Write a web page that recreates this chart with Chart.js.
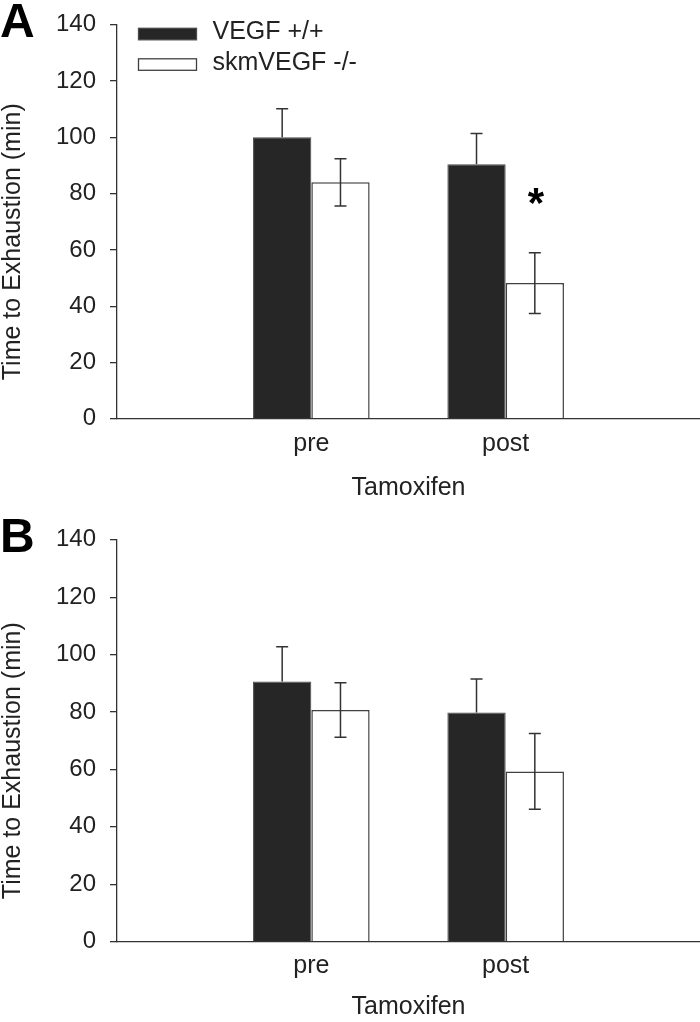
<!DOCTYPE html>
<html>
<head>
<meta charset="utf-8">
<script src="https://cdn.jsdelivr.net/npm/chart.js@4.4.1/dist/chart.umd.min.js"></script>
<style>
  body { margin: 0; background: #fff; }
  canvas { display: block; }
</style>
</head>
<body>
<canvas id="panelA" width="700" height="515"></canvas>
<canvas id="panelB" width="700" height="507"></canvas>
<script>
const groups = ['pre', 'post'];
// blank slots at both ends give the empty space left and right of the bars
const xLabels = ['', 'pre', 'post', ''];
const seriesNames = ['VEGF +/+', 'skmVEGF -/-'];
const yTicks = [0, 20, 40, 60, 80, 100, 120, 140];

// panel A
const aWild = [100, 90.4];
const aWildErr = [10.2, 11];
const aKo = [84, 48.2];
const aKoErr = [8.4, 10.8];
const aSignif = [false, true];

// panel B
const bWild = [90.6, 79.8];
const bWildErr = [12.1, 11.7];
const bKo = [80.7, 59.3];
const bKoErr = [9.5, 13.2];
const bSignif = [false, false];

const FONT = "'Liberation Sans', Arial, sans-serif";
Chart.defaults.font.family = FONT;

const errorBars = {
  id: 'errorBars',
  afterDatasetsDraw(chart) {
    const ctx = chart.ctx;
    const y = chart.scales.y;
    ctx.save();
    ctx.strokeStyle = '#333';
    ctx.lineWidth = 1.5;
    chart.data.datasets.forEach((ds, di) => {
      chart.getDatasetMeta(di).data.forEach((bar, i) => {
        const v = ds.data[i].y, e = ds.errors[i];
        const top = y.getPixelForValue(v + e);
        const bot = y.getPixelForValue(ds.errBoth ? v - e : v);
        ctx.beginPath();
        ctx.moveTo(bar.x, top);
        ctx.lineTo(bar.x, bot);
        ctx.moveTo(bar.x - 6, top);
        ctx.lineTo(bar.x + 6, top);
        if (ds.errBoth) {
          ctx.moveTo(bar.x - 6, bot);
          ctx.lineTo(bar.x + 6, bot);
        }
        ctx.stroke();
      });
    });
    ctx.restore();
  }
};

const panelExtras = {
  id: 'panelExtras',
  afterDraw(chart, args, opts) {
    const { ctx, chartArea } = chart;
    ctx.save();
    ctx.fillStyle = '#000';
    ctx.font = 'bold 48px ' + FONT;
    ctx.textAlign = 'left';
    ctx.textBaseline = 'alphabetic';
    ctx.fillText(opts.letter, 0, 37);

    // y axis title
    ctx.save();
    ctx.fillStyle = '#222';
    ctx.font = '25px ' + FONT;
    ctx.translate(13, (chartArea.top + chartArea.bottom) / 2 + 20);
    ctx.rotate(-Math.PI / 2);
    ctx.textAlign = 'center';
    ctx.textBaseline = 'middle';
    ctx.fillText('Time to Exhaustion (min)', 0, 0);
    ctx.restore();

    if (opts.legend) {
      chart.data.datasets.forEach((ds, i) => {
        const bx = chartArea.left + 21.5;
        const by = chartArea.top + 3.5 + i * 30.5;
        ctx.fillStyle = ds.backgroundColor;
        ctx.fillRect(bx, by, 58, 11.5);
        ctx.strokeStyle = ds.borderColor;
        ctx.lineWidth = 1.3;
        ctx.strokeRect(bx, by, 58, 11.5);
        ctx.fillStyle = '#222';
        ctx.font = '25px ' + FONT;
        ctx.textBaseline = 'middle';
        ctx.fillText(ds.label, bx + 74, by + 4);
      });
    }

    // significance marks over the knockout bars
    const ko = chart.data.datasets[1];
    const meta = chart.getDatasetMeta(1);
    ctx.fillStyle = '#000';
    ctx.font = 'bold 42px ' + FONT;
    ctx.textAlign = 'center';
    ctx.textBaseline = 'alphabetic';
    opts.signif.forEach((s, i) => {
      if (!s) return;
      const yTop = chart.scales.y.getPixelForValue(ko.data[i].y + ko.errors[i]);
      ctx.fillText('*', meta.data[i].x + 1, yTop - 36);
    });
    ctx.restore();
  }
};

function makePanel(id, wild, wildErr, ko, koErr, signif, letter, showLegend, padTop, xAxisHeight, titlePad) {
  return new Chart(document.getElementById(id), {
    type: 'bar',
    data: {
      labels: xLabels,
      datasets: [
        {
          label: seriesNames[0],
          data: groups.map((g, i) => ({ x: g, y: wild[i] })),
          errors: wildErr,
          errBoth: false,
          backgroundColor: '#262626',
          borderColor: '#4a4a4a',
          borderWidth: 1,
        },
        {
          label: seriesNames[1],
          data: groups.map((g, i) => ({ x: g, y: ko[i] })),
          errors: koErr,
          errBoth: true,
          backgroundColor: '#ffffff',
          borderColor: '#404040',
          borderWidth: 1.5,
        },
      ],
    },
    options: {
      responsive: false,
      devicePixelRatio: 1,
      animation: false,
      categoryPercentage: 0.6,
      barPercentage: 1.0,
      layout: { padding: { top: padTop, left: 0, right: 0, bottom: 0 } },
      plugins: {
        legend: { display: false },
        tooltip: { enabled: false },
        panelExtras: { letter, legend: showLegend, signif },
      },
      scales: {
        x: {
          type: 'category',
          offset: false,
          afterFit: (s) => {
            s.height = xAxisHeight;
            s.paddingLeft = 0;
            s.paddingRight = 0;
          },
          grid: { display: false, drawTicks: false },
          border: { display: true, color: '#333', width: 1.3 },
          ticks: {
            autoSkip: false,
            maxRotation: 0,
            padding: 10,
            color: '#222',
            font: { size: 25 },
          },
          title: {
            display: true,
            text: 'Tamoxifen',
            color: '#222',
            font: { size: 25, lineHeight: 1 },
            padding: { top: 0, bottom: titlePad },
          },
        },
        y: {
          min: 0,
          max: 140,
          afterBuildTicks: (s) => { s.ticks = yTicks.map((v) => ({ value: v })); },
          afterFit: (s) => { s.width = 117; },
          grid: {
            display: true,
            drawOnChartArea: false,
            drawTicks: true,
            tickLength: 7,
            color: '#333',
            lineWidth: 1.3,
          },
          border: { display: true, color: '#333', width: 1.3 },
          ticks: {
            padding: 14,
            color: '#222',
            font: { size: 24, lineHeight: 0.9 },
          },
        },
      },
    },
    plugins: [errorBars, panelExtras],
  });
}

makePanel('panelA', aWild, aWildErr, aKo, aKoErr, aSignif, 'A', true, 10.7, 96.3, 14.5);
makePanel('panelB', bWild, bWildErr, bKo, bKoErr, bSignif, 'B', false, 19, 80.4, 2);
</script>
</body>
</html>
